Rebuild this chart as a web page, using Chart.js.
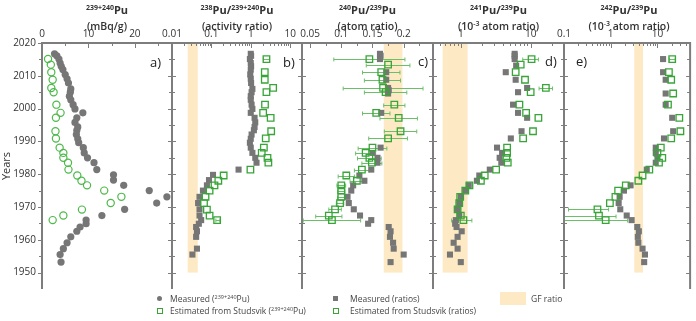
<!DOCTYPE html>
<html>
<head>
<meta charset="utf-8">
<script src="https://cdn.jsdelivr.net/npm/chart.js@4.4.1/dist/chart.umd.min.js"></script>
<style>
  body { margin: 0; width: 696px; height: 321px; position: relative; overflow: hidden; background: #fff; font-family: 'Open Sans', sans-serif; color: #333; }
  canvas { position: absolute; top: 0; }
  .ttl { position: absolute; top: 2px; text-align: center; line-height: 13px; color: #333; }
  .ttl .l1 { font-size: 11px; font-weight: 700; }
  .ttl .l2 { font-size: 10.5px; font-weight: 600; }
  .ttl sup { font-size: 7px; vertical-align: baseline; position: relative; top: -4px; }
  .plab { position: absolute; font-size: 13px; line-height: 13px; color: #222; }
  .leg { position: absolute; font-size: 8.5px; line-height: 11px; color: #444; white-space: nowrap; }
  .leg sup { font-size: 5.5px; vertical-align: baseline; position: relative; top: -3px; }
  .mk { position: absolute; box-sizing: border-box; }
</style>
</head>
<body>

<canvas id="pa" width="187" height="295" style="left:0px"></canvas>
<canvas id="pb" width="160" height="295" style="left:157px"></canvas>
<canvas id="pc" width="161" height="295" style="left:287px"></canvas>
<canvas id="pd" width="161" height="295" style="left:418px"></canvas>
<canvas id="pe" width="147" height="295" style="left:549px"></canvas>

<div class="ttl" style="left:42px;width:130px"><span class="l1"><sup>239+240</sup>Pu</span><br><span class="l2">(mBq/g)</span></div>
<div class="ttl" style="left:172px;width:130px"><span class="l1"><sup>238</sup>Pu/<sup>239+240</sup>Pu</span><br><span class="l2">(activity ratio)</span></div>
<div class="ttl" style="left:302px;width:131px"><span class="l1"><sup>240</sup>Pu/<sup>239</sup>Pu</span><br><span class="l2">(atom ratio)</span></div>
<div class="ttl" style="left:433px;width:131px"><span class="l1"><sup>241</sup>Pu/<sup>239</sup>Pu</span><br><span class="l2">(10<sup>-3</sup> atom ratio)</span></div>
<div class="ttl" style="left:564px;width:130px"><span class="l1"><sup>242</sup>Pu/<sup>239</sup>Pu</span><br><span class="l2">(10<sup>-3</sup> atom ratio)</span></div>

<div class="plab" style="left:150px;top:56px">a)</div>
<div class="plab" style="left:283px;top:56px">b)</div>
<div class="plab" style="left:418px;top:55px">c)</div>
<div class="plab" style="left:545px;top:55px">d)</div>
<div class="plab" style="left:576px;top:55px">e)</div>

<div class="mk" style="left:157px;top:296px;width:5px;height:5px;border-radius:50%;background:#767676"></div>
<div class="leg" style="left:170px;top:293px">Measured (<sup>239+240</sup>Pu)</div>
<div class="mk" style="left:157px;top:308px;width:6px;height:6px;border:1px solid #37a537"></div>
<div class="leg" style="left:170px;top:305px">Estimated from Studsvik (<sup>239+240</sup>Pu)</div>
<div class="mk" style="left:333px;top:296px;width:5px;height:5px;background:#767676"></div>
<div class="leg" style="left:350px;top:293px">Measured (ratios)</div>
<div class="mk" style="left:333px;top:308px;width:6px;height:6px;border:1px solid #37a537"></div>
<div class="leg" style="left:350px;top:305px">Estimated from Studsvik (ratios)</div>
<div class="mk" style="left:500px;top:292px;width:26px;height:13px;background:#fde9c3"></div>
<div class="leg" style="left:531px;top:293px">GF ratio</div>

<script>
// ---- axis ticks ----
const yearTicks = [1950, 1960, 1970, 1980, 1990, 2000, 2010, 2020];
const yearLabels = ['1950', '1960', '1970', '1980', '1990', '2000', '2010', '2020'];
const ticksA = [0, 10, 20];
const labelsA = ['0', '10', '20'];
const ticksB = [0.01, 0.1, 1, 10];
const labelsB = ['0.01', '0.1', '1', '10'];
const ticksC = [0.05, 0.1, 0.15, 0.2];
const labelsC = ['0.05', '0.1', '0.15', '0.2'];
const ticksD = [1, 10];
const labelsD = ['1', '10'];
const ticksE = [0.1, 1, 10];
const labelsE = ['0.1', '1', '10'];

// GF ratio bands
const gfB = [0.025, 0.045];
const gfC = [0.168, 0.198];
const gfD = [0.55, 1.25];
const gfE = [3.2, 4.9];

// ---- a) 239+240Pu mBq/g ----
const yearsPuMeas = [2016.7, 2016.1, 2015.1, 2013.9, 2012.9, 2011.9, 2010.4, 2009.1, 2007.8, 2006, 2005, 2003.8, 2002.7, 2001.2, 1999.9, 1998.7, 1997.2, 1995.8, 1994.4, 1993.4, 1992.1, 1990.8, 1989.6, 1988.1, 1986.5, 1985, 1983.5, 1981.4, 1979.8, 1978.2, 1976.6, 1975, 1973.1, 1971.2, 1969.3, 1967.4, 1966, 1964.9, 1963.9, 1962.6, 1960.9, 1959.1, 1957.3, 1955.5, 1953.2];
const puMeas = [2.7, 3.2, 3.65, 3.9, 4.15, 4.5, 5.0, 5.4, 5.7, 6.2, 6.1, 5.9, 6.2, 6.7, 7.1, 8.8, 7.5, 7.1, 7.7, 7.5, 7.4, 7.7, 7.9, 8.9, 9.1, 9.8, 11.2, 11.8, 15.4, 15.4, 17.6, 23.1, 26.9, 24.7, 17.8, 12.9, 9.5, 9.5, 8.2, 7.5, 6.2, 5.4, 4.6, 3.9, 4.1];
const yearsPuStud = [2015.1, 2013.4, 2011.1, 2008.8, 2006.3, 2005, 2001.2, 1998.7, 1997.2, 1993.1, 1990.9, 1988.1, 1986.5, 1985, 1983.5, 1981.4, 1979.6, 1978, 1976.6, 1975, 1973.1, 1971.2, 1969.2, 1967.4, 1966];
const puStud = [1.3, 1.9, 2.0, 2.3, 2.0, 2.5, 3.1, 4.0, 3.0, 2.9, 3.0, 3.8, 4.6, 4.6, 5.6, 5.7, 7.6, 8.5, 9.7, 13.4, 17.1, 14.8, 8.6, 4.6, 2.3];

// ---- b) 238Pu/239+240Pu ----
const yearsBMeas = [2016.7, 2016.1, 2015.1, 2013.9, 2012.9, 2011.9, 2010.4, 2009.1, 2007.8, 2006, 2005, 2003.8, 2002.7, 2001.2, 1999.9, 1998.7, 1997.2, 1995.8, 1994.4, 1993.4, 1992.1, 1990.8, 1989.6, 1988.1, 1986.5, 1985, 1983.5, 1981.4, 1979.8, 1978.2, 1976.6, 1975, 1973.1, 1971.2, 1969.3, 1967.4, 1966, 1964.9, 1963.9, 1962.6, 1960.9, 1957.3, 1955.5];
const bMeas = [1.0, 1.02, 0.95, 1.0, 1.02, 1.0, 0.97, 1.0, 1.02, 1.1, 1.05, 1.0, 1.0, 1.05, 1.1, 1.0, 1.25, 1.3, 1.25, 1.2, 1.05, 1.0, 0.95, 1.0, 1.1, 1.3, 1.4, 0.49, 0.11, 0.087, 0.077, 0.061, 0.05, 0.046, 0.05, 0.05, 0.055, 0.048, 0.041, 0.043, 0.041, 0.043, 0.033];
const yearsBStud = [2015.1, 2011.1, 2008.8, 2006.3, 2005, 2001.2, 1998.7, 1997.2, 1993.1, 1990.9, 1988.1, 1986.5, 1985, 1983.5, 1981.4, 1979.6, 1978, 1976.6, 1975, 1973.1, 1971.2, 1969.2, 1967.4, 1966];
const bStud = [2.5, 2.27, 2.27, 3.7, 2.5, 2.3, 2.06, 3.2, 3.3, 2.4, 2.15, 1.9, 2.66, 2.8, 0.98, 0.205, 0.15, 0.12, 0.09, 0.071, 0.065, 0.077, 0.09, 0.14];
const bStudLo = [2.1, null, null, null, null, null, null, null, null, null, null, null, null, null, null, null, null, null, null, null, null, null, null, 0.13];
const bStudHi = [3.0, null, null, null, null, null, null, null, null, null, null, null, null, null, null, null, null, null, null, null, null, null, null, 0.165];

// ---- c) 240Pu/239Pu ----
const yearsCMeas = [2016.7, 2016.1, 2015.1, 2011.1, 2008.8, 2006.3, 2005.6, 2004.6, 1998.7, 1988.1, 1986.5, 1985, 1983.5, 1981.4, 1979.6, 1978, 1976.6, 1975, 1973.1, 1971.2, 1969.3, 1967.4, 1966, 1964.9, 1963.9, 1962.6, 1960.9, 1959.1, 1957.3, 1955.5, 1953.2];
const cMeas = [0.162, 0.163, 0.162, 0.172, 0.172, 0.175, 0.176, 0.175, 0.164, 0.163, 0.150, 0.158, 0.158, 0.148, 0.129, 0.137, 0.119, 0.116, 0.110, 0.112, 0.120, 0.130, 0.148, 0.143, 0.176, 0.179, 0.178, 0.183, 0.184, 0.200, 0.179];
const yearsCStud = [2015.1, 2013.4, 2011.1, 2008.8, 2006.3, 2005, 2001.2, 1998.7, 1997.2, 1993.1, 1990.9, 1988.1, 1986.5, 1985, 1983.5, 1981.4, 1979.6, 1978, 1976.6, 1975, 1973.1, 1971.2, 1969.3, 1967.4, 1966];
const cStud = [0.145, 0.175, 0.164, 0.166, 0.167, 0.171, 0.185, 0.156, 0.192, 0.195, 0.175, 0.150, 0.139, 0.145, 0.149, 0.133, 0.108, 0.125, 0.100, 0.100, 0.100, 0.098, 0.090, 0.080, 0.085];
const cStudErr = [0.057, 0.035, 0.030, 0.029, 0.064, 0.034, 0.017, 0.022, 0.030, 0.026, 0.031, 0.023, 0.016, 0.019, 0.016, 0.012, 0.013, 0.011, 0.007, 0.006, 0.006, 0.006, 0.010, 0.021, 0.046];

// ---- d) 241Pu/239Pu (1e-3) ----
const yearsDMeas = [2016.7, 2016.1, 2015.1, 2013.1, 2011.1, 2008.8, 2006.3, 2005, 2001.2, 1998.7, 1997.2, 1993.1, 1990.9, 1988.1, 1986.5, 1985, 1983.5, 1981.4, 1979.6, 1978, 1976.6, 1975, 1973.1, 1971.2, 1969.3, 1967.4, 1966, 1964.9, 1963.9, 1962.6, 1960.9, 1959.1, 1957.3, 1955.5, 1953.2];
const dMeas = [5.9, 5.9, 5.9, 6.2, 4.4, 6.1, 8.9, 6.6, 5.6, 6.6, 8.9, 7.4, 5.2, 3.3, 3.9, 3.6, 3.8, 2.6, 1.84, 1.7, 1.3, 1.16, 1.0, 0.95, 0.9, 0.95, 0.85, 0.83, 0.87, 1.03, 0.9, 0.79, 0.9, 0.7, 1.0];
const yearsDStud = [2015.1, 2013.4, 2011.1, 2008.8, 2006.3, 2005, 2001.2, 1998.7, 1997.2, 1993.1, 1990.9, 1988.1, 1986.5, 1985, 1983.5, 1981.4, 1979.6, 1978, 1976.6, 1975, 1973.1, 1971.2, 1969.3, 1967.4, 1966];
const dStud = [10.3, 7.2, 6.1, 8.3, 16.5, 10, 6.9, 8.6, 12.9, 10.8, 7.8, 4.6, 4.6, 4.5, 4.7, 3.2, 2.2, 1.94, 1.33, 1.16, 0.98, 0.95, 0.9, 1.0, 1.09];
const dStudLo = [7.7, null, null, null, 13.2, null, null, null, null, null, null, null, null, null, null, null, null, null, null, null, null, null, null, null, 0.74];
const dStudHi = [12.9, null, null, null, 20.5, null, null, null, null, null, null, null, null, null, null, null, null, null, null, null, null, null, null, null, 1.44];

// ---- e) 242Pu/239Pu (1e-3) ----
const yearsEMeas = [2015.1, 2011.1, 2008.8, 2004.6, 2001.2, 1997.2, 1993.1, 1990.9, 1988.1, 1986.5, 1985, 1983.5, 1981.4, 1976.6, 1975, 1973.1, 1971.2, 1969.3, 1967.4, 1966, 1963.9, 1962.6, 1960.9, 1959.1, 1957.3, 1955.5, 1953.2];
const eMeas = [13.2, 13.2, 15, 15, 15, 20.7, 21.7, 13.8, 9.2, 9.2, 10, 9.2, 5.9, 2.66, 1.92, 1.55, 1.48, 1.6, 2.2, 2.8, 3.7, 4.0, 3.8, 3.9, 4.8, 5.4, 5.2];
const yearsEStud = [2015.1, 2011.1, 2008.8, 2004.6, 2001.2, 1997.2, 1993.1, 1990.9, 1988.1, 1986.5, 1985, 1983.5, 1981.4, 1979.6, 1978, 1976.6, 1975, 1973.1, 1971.2, 1969.3, 1967.4, 1966];
const eStud = [20.7, 17.6, 19.7, 21.7, 16.8, 29.4, 31, 19.7, 11.8, 10, 12.7, 10.8, 6.7, 4.8, 3.9, 2.1, 1.44, 1.26, 0.96, 0.52, 0.56, 0.78];
const eStudLo = [18, null, null, null, null, null, null, null, null, null, null, null, null, null, null, null, null, null, null, 0.125, 0.1, 0.1];
const eStudHi = [24, null, null, null, null, null, null, null, null, null, null, null, null, null, null, null, null, null, null, 0.9, 1.3, 2.3];

const gray = '#767676';
const green = '#37a537';
const greenLight = '#4db94a';
const errGreen = '#6cbf69';

Chart.defaults.font.family = "'Open Sans', sans-serif";
Chart.defaults.color = '#333';

function pts(xs, ys) {
  return xs.map((v, i) => ({ x: v, y: ys[i] }));
}

// band, error bars, frame and tick marks drawn through the chart's own scales
const panelDeco = {
  id: 'panelDeco',
  beforeDatasetsDraw(chart, args, o) {
    const { ctx, chartArea: a } = chart;
    const x = chart.scales.x, y = chart.scales.y;
    ctx.save();
    ctx.beginPath();
    ctx.rect(a.left, a.top, a.right - a.left, a.bottom - a.top);
    ctx.clip();
    if (o.band) {
      const x0 = x.getPixelForValue(o.band[0]);
      const x1 = x.getPixelForValue(o.band[1]);
      const y0 = y.getPixelForValue(2020);
      const y1 = y.getPixelForValue(1950);
      ctx.fillStyle = '#fde9c3';
      ctx.fillRect(x0, y0, x1 - x0, y1 - y0);
    }
    chart.data.datasets.forEach(ds => {
      if (!ds.errLo) return;
      ctx.strokeStyle = errGreen;
      ctx.lineWidth = 1;
      ds.data.forEach((p, i) => {
        if (ds.errLo[i] == null) return;
        const py = Math.round(y.getPixelForValue(p.y)) + 0.5;
        const xa = x.getPixelForValue(ds.errLo[i]);
        const xb = x.getPixelForValue(ds.errHi[i]);
        ctx.beginPath();
        ctx.moveTo(xa, py); ctx.lineTo(xb, py);
        ctx.moveTo(xa, py - 2); ctx.lineTo(xa, py + 2);
        ctx.moveTo(xb, py - 2); ctx.lineTo(xb, py + 2);
        ctx.stroke();
      });
    });
    ctx.restore();
  },
  afterDraw(chart, args, o) {
    const { ctx, chartArea: a } = chart;
    const x = chart.scales.x, y = chart.scales.y;
    ctx.save();
    ctx.strokeStyle = '#7d7d7d';
    ctx.lineWidth = 1;
    ctx.beginPath();
    for (let yr = 1950; yr <= 2020; yr += 5) {
      const py = Math.round(y.getPixelForValue(yr)) + 0.5;
      const len = yr % 10 === 0 ? 4 : 3;
      if (o.outerLeft) {
        ctx.moveTo(a.left - len, py); ctx.lineTo(a.left, py);
      } else {
        ctx.moveTo(a.left, py); ctx.lineTo(a.left + len, py);
      }
      ctx.moveTo(a.right - len, py); ctx.lineTo(a.right, py);
    }
    x.ticks.forEach(t => {
      const px = Math.round(x.getPixelForValue(t.value)) + 0.5;
      ctx.moveTo(px, a.top); ctx.lineTo(px, a.top + 5);
    });
    const minor = [];
    if (x.type === 'logarithmic') {
      for (let e = Math.floor(Math.log10(x.min)); e <= Math.ceil(Math.log10(x.max)); e++) {
        for (let k = 2; k <= 9; k++) {
          const v = k * Math.pow(10, e);
          if (v > x.min && v < x.max) minor.push(v);
        }
      }
    } else if (o.minorStep) {
      for (let v = Math.ceil(x.min / o.minorStep) * o.minorStep; v < x.max; v += o.minorStep) minor.push(v);
    }
    minor.forEach(v => {
      const px = Math.round(x.getPixelForValue(v)) + 0.5;
      ctx.moveTo(px, a.top); ctx.lineTo(px, a.top + 3);
    });
    ctx.stroke();
    ctx.lineWidth = 2;
    ctx.beginPath();
    ctx.moveTo(a.left, a.bottom);
    ctx.lineTo(a.left, a.top);
    ctx.lineTo(a.right, a.top);
    ctx.lineTo(a.right, a.bottom);
    ctx.stroke();
    ctx.restore();
  }
};

function makePanel(id, p) {
  new Chart(document.getElementById(id), {
    type: 'scatter',
    data: { datasets: p.datasets },
    plugins: [panelDeco],
    options: {
      responsive: false,
      animation: false,
      events: [],
      layout: { padding: { left: p.padL, right: p.padR, top: 0, bottom: 6 } },
      scales: {
        x: {
          type: p.xType,
          position: 'top',
          min: p.min,
          max: p.max,
          afterBuildTicks: s => { s.ticks = p.ticks.map(v => ({ value: v })); },
          afterFit: s => { s.height = 43; },
          ticks: {
            callback: (v, i) => p.labels[i],
            autoSkip: false,
            maxRotation: 0,
            padding: 3,
            font: { size: 10 },
            color: '#333'
          },
          grid: { display: false, drawTicks: false },
          border: { display: false }
        },
        y: {
          type: 'linear',
          display: p.showY,
          min: 1945,
          max: 2020,
          afterBuildTicks: s => { s.ticks = yearTicks.map(v => ({ value: v })); },
          afterFit: s => {
            if (p.showY) {
              s.width = 42;
              s.paddingTop = 0;
              s.paddingBottom = 0;
            }
          },
          ticks: {
            callback: (v, i) => yearLabels[i],
            autoSkip: false,
            padding: 6,
            font: { size: 10 },
            color: '#333'
          },
          title: { display: true, text: 'Years', font: { size: 11 }, color: '#333', padding: { top: 0, bottom: 0 } },
          grid: { display: false, drawTicks: false },
          border: { display: false }
        }
      },
      plugins: {
        legend: { display: false },
        tooltip: { enabled: false },
        panelDeco: { band: p.band, minorStep: p.minorStep, outerLeft: p.showY }
      }
    }
  });
}

function studSquares(xs, ys, lo, hi) {
  return {
    label: 'Estimated from Studsvik (ratios)',
    data: pts(xs, ys),
    pointStyle: 'rect',
    pointRadius: 4.6,
    borderColor: green,
    backgroundColor: 'rgba(255,255,255,0)',
    borderWidth: 1.3,
    errLo: lo,
    errHi: hi
  };
}

function measSquares(xs, ys) {
  return {
    label: 'Measured (ratios)',
    data: pts(xs, ys),
    pointStyle: 'rect',
    pointRadius: 4.3,
    borderColor: gray,
    backgroundColor: gray,
    borderWidth: 0
  };
}

makePanel('pa', {
  xType: 'linear', min: 0, max: 28, ticks: ticksA, labels: labelsA, minorStep: 5,
  padL: 0, padR: 15, showY: true,
  datasets: [
    {
      label: 'Estimated from Studsvik (239+240Pu)',
      data: pts(puStud, yearsPuStud),
      pointStyle: 'circle',
      pointRadius: 3.6,
      borderColor: greenLight,
      backgroundColor: 'rgba(255,255,255,0)',
      borderWidth: 1.2
    },
    {
      label: 'Measured (239+240Pu)',
      data: pts(puMeas, yearsPuMeas),
      pointStyle: 'circle',
      pointRadius: 3.6,
      borderColor: gray,
      backgroundColor: gray,
      borderWidth: 0
    }
  ]
});

makePanel('pb', {
  xType: 'logarithmic', min: 0.01, max: 20, ticks: ticksB, labels: labelsB,
  padL: 15, padR: 15, showY: false, band: gfB,
  datasets: [studSquares(bStud, yearsBStud, bStudLo, bStudHi), measSquares(bMeas, yearsBMeas)]
});

makePanel('pc', {
  xType: 'linear', min: 0.037, max: 0.247, ticks: ticksC, labels: labelsC, minorStep: 0.025,
  padL: 15, padR: 15, showY: false, band: gfC,
  datasets: [
    studSquares(cStud, yearsCStud, cStud.map((v, i) => v - cStudErr[i]), cStud.map((v, i) => v + cStudErr[i])),
    measSquares(cMeas, yearsCMeas)
  ]
});

makePanel('pd', {
  xType: 'logarithmic', min: 0.4, max: 30, ticks: ticksD, labels: labelsD,
  padL: 15, padR: 15, showY: false, band: gfD,
  datasets: [studSquares(dStud, yearsDStud, dStudLo, dStudHi), measSquares(dMeas, yearsDMeas)]
});

makePanel('pe', {
  xType: 'logarithmic', min: 0.1, max: 50, ticks: ticksE, labels: labelsE,
  padL: 15, padR: 2, showY: false, band: gfE,
  datasets: [studSquares(eStud, yearsEStud, eStudLo, eStudHi), measSquares(eMeas, yearsEMeas)]
});
</script>
</body>
</html>
